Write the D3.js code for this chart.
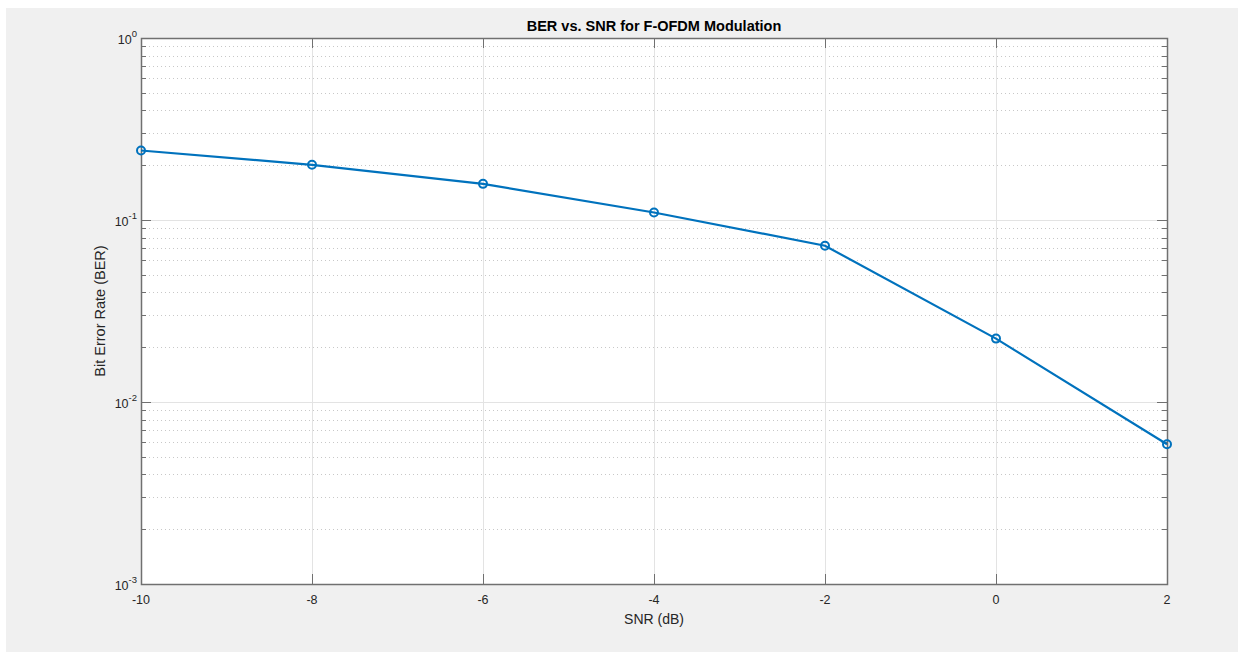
<!DOCTYPE html>
<html>
<head>
<meta charset="utf-8">
<script src="https://cdn.jsdelivr.net/npm/d3@7"></script>
<style>
html,body{margin:0;padding:0;background:#fff;}
svg{display:block;font-family:"Liberation Sans",Arial,Helvetica,sans-serif;}
</style>
</head>
<body>
<svg id="chart" width="1238" height="652"></svg>
<script>
const snr = [-10, -8, -6, -4, -2, 0, 2];
const ber = [0.241, 0.201, 0.158, 0.110, 0.0722, 0.0223, 0.00586];
const xTicks = [-10, -8, -6, -4, -2, 0, 2];
const yDecades = [-3, -2, -1, 0];
const titleText = "BER vs. SNR for F-OFDM Modulation";
const xLabelText = "SNR (dB)";
const yLabelText = "Bit Error Rate (BER)";

const svg = d3.select("#chart");
const W = 1238, H = 652;
const m = {left: 141, top: 38, right: 1167, bottom: 584};

svg.append("rect").attr("x", 0).attr("y", 0).attr("width", W).attr("height", H).attr("fill", "#fff");
svg.append("rect").attr("x", 6).attr("y", 8).attr("width", W - 6).attr("height", H - 8).attr("fill", "#f0f0f0");
svg.append("rect").attr("x", m.left).attr("y", m.top).attr("width", m.right - m.left).attr("height", m.bottom - m.top).attr("fill", "#fff");

const x = d3.scaleLinear().domain([-10, 2]).range([m.left, m.right]);
const y = d3.scaleLog().domain([1e-3, 1]).range([m.bottom, m.top]);

const minor = [];
yDecades.slice(0, -1).forEach(d => {
  for (let k = 2; k <= 9; k++) minor.push(k * Math.pow(10, d));
});

const g = svg.append("g");
g.selectAll("line.ming").data(minor).enter().append("line")
  .attr("x1", m.left).attr("x2", m.right)
  .attr("y1", d => Math.round(y(d)) + 0.5).attr("y2", d => Math.round(y(d)) + 0.5)
  .attr("stroke", "#c8c8c8").attr("stroke-width", 1).attr("stroke-dasharray", "1,3");
g.selectAll("line.majy").data(yDecades.map(d => Math.pow(10, d))).enter().append("line")
  .attr("x1", m.left).attr("x2", m.right)
  .attr("y1", d => Math.round(y(d)) + 0.5).attr("y2", d => Math.round(y(d)) + 0.5)
  .attr("stroke", "#e3e3e3").attr("stroke-width", 1);
g.selectAll("line.majx").data(xTicks).enter().append("line")
  .attr("x1", d => Math.round(x(d)) + 0.5).attr("x2", d => Math.round(x(d)) + 0.5)
  .attr("y1", m.top).attr("y2", m.bottom)
  .attr("stroke", "#e3e3e3").attr("stroke-width", 1);

const axisColor = "#707070";
const tl = 10, tlm = 5;
xTicks.forEach(t => {
  const xx = Math.round(x(t)) + 0.5;
  g.append("line").attr("x1", xx).attr("x2", xx).attr("y1", m.bottom).attr("y2", m.bottom - tl).attr("stroke", axisColor);
  g.append("line").attr("x1", xx).attr("x2", xx).attr("y1", m.top).attr("y2", m.top + tl).attr("stroke", axisColor);
  svg.append("text").attr("x", x(t)).attr("y", m.bottom + 20).attr("text-anchor", "middle")
    .attr("font-size", 12.5).attr("fill", "#262626").text(t);
});
yDecades.forEach(d => {
  const yy = Math.round(y(Math.pow(10, d))) + 0.5;
  g.append("line").attr("x1", m.left).attr("x2", m.left + tl).attr("y1", yy).attr("y2", yy).attr("stroke", axisColor);
  g.append("line").attr("x1", m.right).attr("x2", m.right - tl).attr("y1", yy).attr("y2", yy).attr("stroke", axisColor);
  const t = svg.append("text").attr("x", m.left - 4).attr("y", yy + 5).attr("text-anchor", "end")
    .attr("font-size", 12.5).attr("fill", "#262626");
  t.append("tspan").text("10");
  t.append("tspan").attr("dy", -7).attr("font-size", 9.5).text(d);
});
minor.forEach(v => {
  const yy = Math.round(y(v)) + 0.5;
  g.append("line").attr("x1", m.left).attr("x2", m.left + tlm).attr("y1", yy).attr("y2", yy).attr("stroke", axisColor);
  g.append("line").attr("x1", m.right).attr("x2", m.right - tlm).attr("y1", yy).attr("y2", yy).attr("stroke", axisColor);
});
svg.append("rect").attr("x", m.left + 0.5).attr("y", m.top + 0.5)
  .attr("width", m.right - m.left).attr("height", m.bottom - m.top)
  .attr("fill", "none").attr("stroke", axisColor).attr("stroke-width", 1.5);

const pts = snr.map((s, i) => [s, ber[i]]);
svg.append("path").datum(pts)
  .attr("d", d3.line().x(d => x(d[0])).y(d => y(d[1])))
  .attr("fill", "none").attr("stroke", "#0072BD").attr("stroke-width", 2.2);
svg.selectAll("circle.pt").data(pts).enter().append("circle")
  .attr("cx", d => x(d[0])).attr("cy", d => y(d[1])).attr("r", 4)
  .attr("fill", "none").attr("stroke", "#0072BD").attr("stroke-width", 2);

svg.append("text").attr("x", (m.left + m.right) / 2).attr("y", 31).attr("text-anchor", "middle")
  .attr("font-size", 14.5).attr("font-weight", "bold").attr("fill", "#000").text(titleText);
svg.append("text").attr("x", (m.left + m.right) / 2).attr("y", 624).attr("text-anchor", "middle")
  .attr("font-size", 14).attr("fill", "#262626").text(xLabelText);
svg.append("text").attr("transform", `translate(105,${(m.top + m.bottom) / 2}) rotate(-90)`)
  .attr("text-anchor", "middle").attr("font-size", 14.5).attr("fill", "#262626").text(yLabelText);
</script>
</body>
</html>
